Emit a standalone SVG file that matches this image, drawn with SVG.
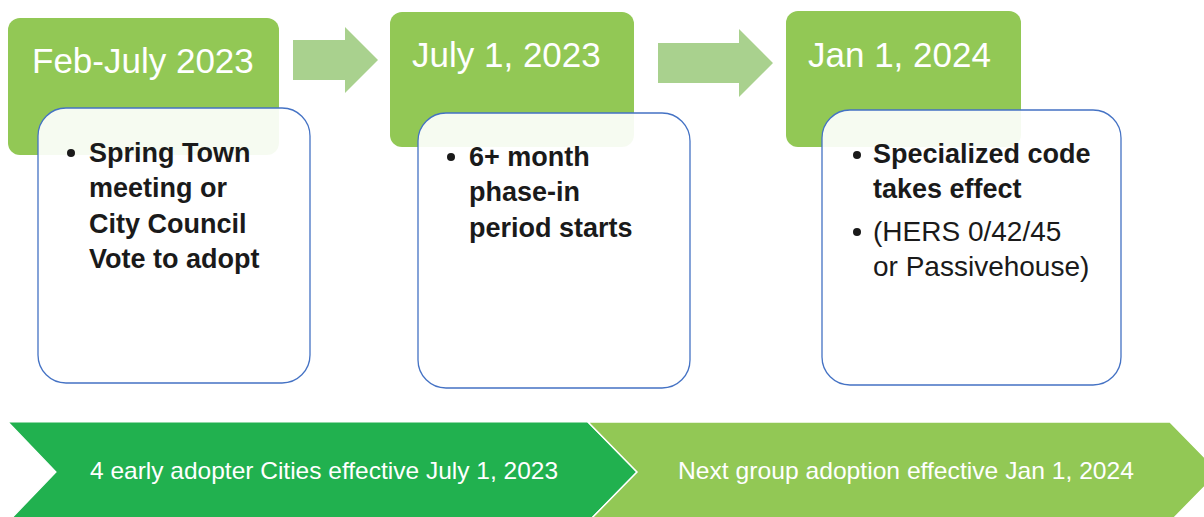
<svg xmlns="http://www.w3.org/2000/svg" width="1204" height="517" viewBox="0 0 1204 517">
<style>
.hdr{fill:#92c855}
.card{fill:#ffffff;fill-opacity:0.92;stroke:#4472c4;stroke-width:1.3}
.arr{fill:#a9d18e}
.title{font-family:"Liberation Sans",Arial,sans-serif;font-size:35px;fill:#ffffff}
.b{font-family:"Liberation Sans",Arial,sans-serif;font-size:27px;font-weight:bold;fill:#1a1a1a}
.r{font-family:"Liberation Sans",Arial,sans-serif;font-size:28px;fill:#1a1a1a}
.band{font-family:"Liberation Sans",Arial,sans-serif;font-size:24px;fill:#ffffff}
</style>
<rect width="1204" height="517" fill="#ffffff"/>
<g id="connectors">
  <polygon class="arr" points="293,40 345,40 345,27 378,60 345,93 345,80 293,80"/>
  <polygon class="arr" points="658,43 739,43 739,29 773,63 739,97 739,83 658,83"/>
</g>
<g id="node-feb-july-2023">
  <rect class="hdr" x="8" y="18" width="271" height="137" rx="12"/>
  <text class="title" x="32" y="73">Feb-July 2023</text>
  <rect class="card" x="38" y="108" width="272" height="275" rx="28"/>
  <circle cx="71" cy="153" r="4" fill="#1a1a1a"/>
  <text class="b" x="89" y="162">Spring Town</text>
  <text class="b" x="89" y="197">meeting or</text>
  <text class="b" x="89" y="233">City Council</text>
  <text class="b" x="89" y="268">Vote to adopt</text>
</g>
<g id="node-july-1-2023">
  <rect class="hdr" x="390" y="12" width="244" height="135" rx="12"/>
  <text class="title" x="412" y="67">July 1, 2023</text>
  <rect class="card" x="418" y="113" width="272" height="275" rx="28"/>
  <circle cx="451" cy="157" r="4" fill="#1a1a1a"/>
  <text class="b" x="469" y="166">6+ month</text>
  <text class="b" x="469" y="201">phase-in</text>
  <text class="b" x="469" y="237">period starts</text>
</g>
<g id="node-jan-1-2024">
  <rect class="hdr" x="786" y="11" width="235" height="136" rx="12"/>
  <text class="title" x="808" y="67">Jan 1, 2024</text>
  <rect class="card" x="822" y="110" width="299" height="275" rx="28"/>
  <circle cx="857" cy="155" r="4" fill="#1a1a1a"/>
  <text class="b" x="873" y="163">Specialized code</text>
  <text class="b" x="873" y="198">takes effect</text>
  <circle cx="857" cy="232" r="4" fill="#1a1a1a"/>
  <text class="r" x="873" y="241">(HERS 0/42/45</text>
  <text class="r" x="873" y="276">or Passivehouse)</text>
</g>
<g id="node-early-adopters">
  <polygon points="8,422 588,422 637,472 588,522 8,522 56,472" fill="#21b14f" stroke="#ffffff" stroke-width="1.2"/>
  <text class="band" x="324" y="479" text-anchor="middle" textLength="468" lengthAdjust="spacingAndGlyphs">4 early adopter Cities effective July 1, 2023</text>
</g>
<g id="node-next-group">
  <polygon points="588,422 1170,422 1219,472 1170,522 588,522 637,472" fill="#92c855" stroke="#ffffff" stroke-width="1.5"/>
  <text class="band" x="906" y="479" text-anchor="middle" textLength="456" lengthAdjust="spacingAndGlyphs">Next group adoption effective Jan 1, 2024</text>
</g>
</svg>
